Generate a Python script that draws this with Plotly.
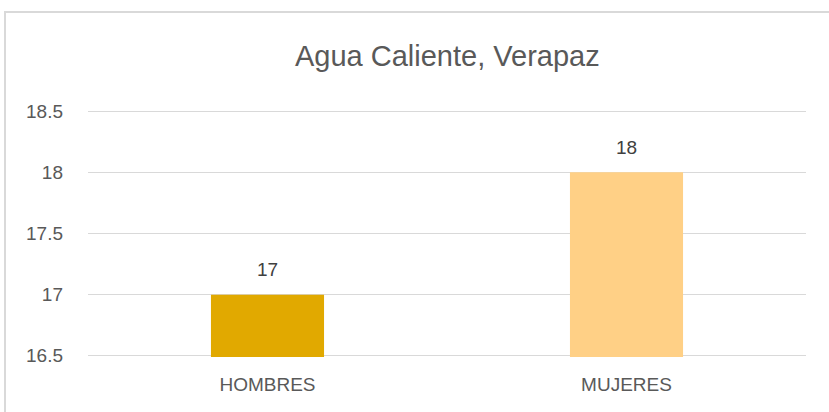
import plotly.graph_objects as go

categories = ["HOMBRES", "MUJERES"]
values = [17, 18]
colors = ["#E1A900", "#FFD086"]
title_text = "Agua Caliente, Verapaz"
y_ticks = [16.5, 17, 17.5, 18, 18.5]
y_tick_labels = ["16.5", "17", "17.5", "18", "18.5"]

W, H = 829, 412
L, R, T, B = 88, 23, 110, 55
pw, ph = W - L - R, H - T - B
FONT = "Liberation Sans, Arial, sans-serif"

fig = go.Figure()
fig.add_trace(go.Bar(
    x=categories, y=values, marker_color=colors, marker_line_width=0,
    hoverinfo="skip",
))

for c, v in zip(categories, values):
    fig.add_annotation(x=c, y=v, text=str(v), showarrow=False, yanchor="middle",
                       yshift=25, font=dict(family=FONT, size=19, color="#404040"))

fig.add_annotation(xref="paper", yref="paper", x=0.5,
                   y=(H - B - 56) / ph, text=title_text, showarrow=False,
                   xanchor="center", yanchor="middle",
                   font=dict(family=FONT, size=29, color="#595959"))

fig.add_shape(type="rect", xref="paper", yref="paper",
              x0=(5 - L) / pw, x1=(845 - L) / pw,
              y0=(H - B - 430) / ph, y1=(H - B - 12) / ph,
              line=dict(color="#D9D9D9", width=2), fillcolor="rgba(0,0,0,0)", layer="below")

fig.update_layout(
    width=W, height=H, margin=dict(l=L, r=R, t=T, b=B),
    paper_bgcolor="white", plot_bgcolor="white",
    bargap=0.685, showlegend=False,
    font=dict(family=FONT, color="#595959"),
)
fig.update_xaxes(showline=False, showgrid=False, zeroline=False, ticks="",
                 tickfont=dict(size=19, color="#595959"), ticklabelstandoff=14)
fig.update_yaxes(range=[16.49, 18.51], tickvals=y_ticks, ticktext=y_tick_labels,
                 showgrid=True, gridcolor="#D9D9D9", gridwidth=1.4, zeroline=False,
                 showline=False, ticks="", tickfont=dict(size=19, color="#595959"),
                 ticklabelstandoff=24)

fig.write_html("out.html", config={"displayModeBar": False},
               post_script="document.body.style.margin='0';")
